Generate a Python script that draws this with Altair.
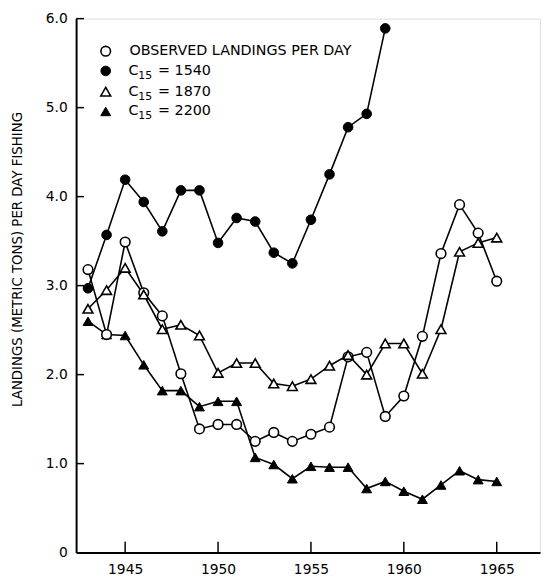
import altair as alt
import pandas as pd

years = list(range(1943, 1966))
observed = [3.18, 2.45, 3.49, 2.92, 2.66, 2.01, 1.39, 1.44, 1.44, 1.25, 1.35, 1.25,
            1.33, 1.41, 2.20, 2.25, 1.53, 1.76, 2.43, 3.36, 3.91, 3.59, 3.05]
c1540_years = list(range(1943, 1960))
c1540 = [2.97, 3.57, 4.19, 3.94, 3.61, 4.07, 4.07, 3.48, 3.76, 3.72, 3.37, 3.25,
         3.74, 4.25, 4.78, 4.93, 5.89]
c1870 = [2.74, 2.95, 3.20, 2.90, 2.51, 2.56, 2.44, 2.02, 2.13, 2.13, 1.90, 1.87,
         1.95, 2.10, 2.22, 2.00, 2.35, 2.35, 2.01, 2.51, 3.38, 3.48, 3.54]
c2200 = [2.60, 2.45, 2.44, 2.11, 1.82, 1.82, 1.64, 1.70, 1.70, 1.07, 0.99, 0.83,
         0.97, 0.96, 0.96, 0.72, 0.80, 0.69, 0.60, 0.76, 0.92, 0.82, 0.80]

x_ticks = [1945, 1950, 1955, 1960, 1965]
y_ticks = [0, 1, 2, 3, 4, 5, 6]
y_title = "LANDINGS (METRIC TONS) PER DAY FISHING"
legend_labels = ["OBSERVED LANDINGS PER DAY", "1540", "1870", "2200"]

FONT = "DejaVu Sans"

df_obs = pd.DataFrame({"year": years, "v": observed})
df_1540 = pd.DataFrame({"year": c1540_years, "v": c1540})
df_1870 = pd.DataFrame({"year": years, "v": c1870})
df_2200 = pd.DataFrame({"year": years, "v": c2200})

xscale = alt.Scale(domain=[1942.36, 1967.33], nice=False, zero=False)
yscale = alt.Scale(domain=[0, 6], nice=False)

xaxis = alt.Axis(values=x_ticks, format="d", tickSize=0, grid=False, labelFontSize=14,
                 labelFont=FONT, labelColor="black", domainColor="black", domainWidth=2,
                 labelPadding=10, title=None)
yaxis = alt.Axis(values=y_ticks, labelExpr="datum.value == 0 ? '0' : format(datum.value, '.1f')",
                 tickSize=0, grid=False, labelFontSize=14, labelFont=FONT, labelColor="black",
                 domainColor="black", domainWidth=2, labelPadding=9, title=None)

CIRCLE_SIZE = 95
TRI_SIZE = 100


def style(shape, filled):
    kw = dict(shape=shape, size=CIRCLE_SIZE if shape == "circle" else TRI_SIZE,
              filled=True, opacity=1)
    if filled:
        kw.update(fill="black", stroke="black", strokeWidth=1)
    else:
        kw.update(fill="white", stroke="black", strokeWidth=1.6)
    return kw


def line(df):
    return alt.Chart(df).mark_line(color="black", strokeWidth=1.6).encode(
        x=alt.X("year:Q", scale=xscale, axis=xaxis),
        y=alt.Y("v:Q", scale=yscale, axis=yaxis),
    )


def pts(df, shape, filled):
    return alt.Chart(df).mark_point(**style(shape, filled)).encode(
        x=alt.X("year:Q", scale=xscale),
        y=alt.Y("v:Q", scale=yscale),
    )


xt = alt.Chart(pd.DataFrame({"year": x_ticks})).mark_rule(color="black", strokeWidth=1.5).encode(
    x=alt.X("year:Q", scale=xscale), y=alt.value(541), y2=alt.value(530))
yt = alt.Chart(pd.DataFrame({"v": y_ticks[1:]})).mark_rule(color="black", strokeWidth=1.5).encode(
    y=alt.Y("v:Q", scale=yscale), x=alt.value(0), x2=alt.value(8))

one = alt.Data(values=[{}])

legend_layers = []
rows = [33, 53, 74, 94]
shapes = [("circle", False), ("circle", True), ("triangle-up", False), ("triangle-up", True)]
for i, (shape, filled) in enumerate(shapes):
    legend_layers.append(alt.Chart(one).mark_point(**style(shape, filled)).encode(
        x=alt.value(30), y=alt.value(rows[i])))
    if i == 0:
        legend_layers.append(alt.Chart(one).mark_text(
            text=legend_labels[0], font=FONT, fontSize=14.5, align="left", baseline="middle",
            color="black").encode(x=alt.value(54), y=alt.value(rows[i])))
    else:
        legend_layers.append(alt.Chart(one).mark_text(
            text="C", font=FONT, fontSize=14.5, align="left", baseline="middle",
            color="black").encode(x=alt.value(53), y=alt.value(rows[i])))
        legend_layers.append(alt.Chart(one).mark_text(
            text="15", font=FONT, fontSize=11, align="left", baseline="middle",
            color="black").encode(x=alt.value(63), y=alt.value(rows[i] + 5)))
        legend_layers.append(alt.Chart(one).mark_text(
            text="= " + legend_labels[i], font=FONT, fontSize=14.5, align="left", baseline="middle",
            color="black").encode(x=alt.value(83), y=alt.value(rows[i])))

title = alt.Chart(one).mark_text(text=y_title, font=FONT, fontSize=13.5, angle=270,
                                 align="center", baseline="middle", color="black").encode(
    x=alt.value(-59), y=alt.value(244))

chart = alt.layer(
    xt, yt,
    line(df_1540), line(df_2200), line(df_obs), line(df_1870),
    pts(df_1540, "circle", True), pts(df_2200, "triangle-up", True),
    pts(df_obs, "circle", False), pts(df_1870, "triangle-up", False),
    *legend_layers, title,
).properties(
    width=470, height=541,
    autosize=alt.AutoSizeParams(type="none"),
    padding={"left": 69, "top": 7, "right": 1, "bottom": 26},
).configure_view(stroke="black", strokeWidth=2).configure(background="white")

chart.save("out.html", embed_options={"renderer": "svg", "actions": False})
